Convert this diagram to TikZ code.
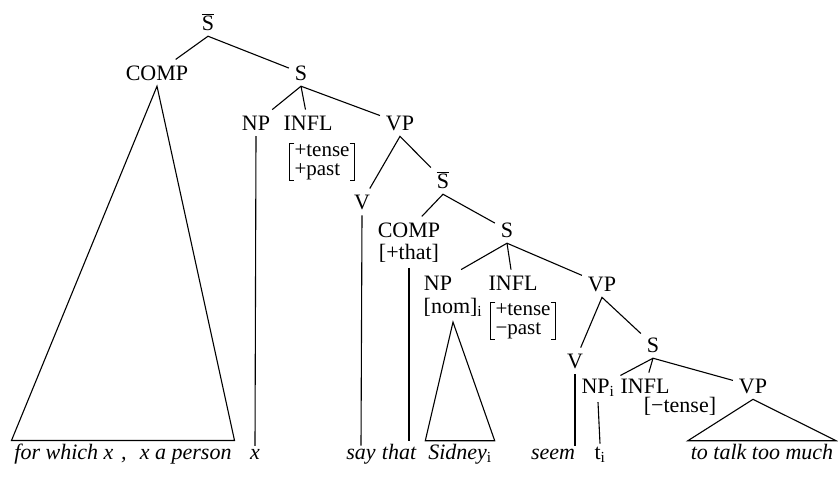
\documentclass[tikz,border=0pt]{standalone}
\usepackage{fontspec}
\setmainfont{Liberation Serif}
\usetikzlibrary{positioning}
\tikzset{
  cat/.style  = {anchor=base, inner sep=2pt, outer sep=4pt,
                 font=\fontsize{22}{24}\selectfont},
  feat/.style = {inner xsep=5pt, inner ysep=1pt, align=left,
                 font=\fontsize{21}{19}\selectfont},
  leaf/.style = {anchor=base, inner sep=1pt, outer sep=2pt,
                 font=\fontsize{22}{24}\selectfont\itshape},
  br/.style   = {line width=1.1pt}
}
% square brackets round a feature matrix
\newcommand{\brk}[1]{%
  \draw[br] ([xshift=5pt]#1.north west) -| (#1.south west) -- ++(5pt,0pt);
  \draw[br] ([xshift=-5pt]#1.north east) -| (#1.south east) -- ++(-5pt,0pt);}
\newcommand{\Sbar}{$\overline{\mbox{S}}$}

\begin{document}
\begin{tikzpicture}[x=1pt,y=-1pt]
  \useasboundingbox[fill=white] (0,0) rectangle (838,479);

  % upper clause
  \node[cat] (sbar1) at (208,30) {\Sbar};
  \node[cat] (comp1) at (157,80) {COMP};
  \node[cat] (s1) at (301,80) {S};
  \node[cat] (np1) at (256,130) {NP};
  \node[cat] (infl1) at (308,130) {INFL};
  \node[cat] (vp1) at (400,130) {VP};
  \node[feat] (f1) at (322,162) {+tense\\+past};
  \node[cat] (v1) at (362,209) {V};
  \node[cat] (sbar2) at (443,188) {\Sbar};

  % middle clause
  \node[cat] (comp2) at (409,237) {COMP};
  \node[cat] (tf) at (409,259) {[+that]};
  \node[cat] (s2) at (507,237) {S};
  \node[cat, outer sep=1pt] (np2) at (438,290) {NP};
  \node[cat, outer sep=1pt] (nom) at (453,313) {[nom]\textsubscript{i}};
  \node[cat] (infl2) at (513,290) {INFL};
  \node[feat] (f2) at (523,321) {+tense\\−past};
  \node[cat] (vp2) at (602,291) {VP};
  \node[cat] (v2) at (575,368) {V};
  \node[cat] (s3) at (653,352) {S};

  % lower clause
  \node[cat] (np3) at (598,393) {NP\textsubscript{i}};
  \node[cat] (infl3) at (645,393) {INFL};
  \node[cat] (f3) at (680,412) {[−tense]};
  \node[cat] (vp3) at (753,393) {VP};

  % words
  \node[leaf] (w1) at (123,459) {for which x\hspace{0.35em},\hspace{0.6em}x a person};
  \node[leaf] (wx) at (255,459) {x};
  \node[leaf] (wsay) at (361,459) {say};
  \node[leaf] (wthat) at (399,459) {that};
  \node[leaf] (wsid) at (460,459) {Sidney\textsubscript{\upshape i}};
  \node[leaf] (wseem) at (553,459) {seem};
  \node[leaf] (wt) at (600,459) {\upshape t\textsubscript{i}};
  \node[leaf] (wtalk) at (762,459) {to talk too much};

  \brk{f1}
  \brk{f2}

  \draw[br] (comp1) -- (sbar1.south) -- (s1);
  \draw[br] (np1) -- (s1.south) -- (vp1);
  \draw[br] (s1.south) -- (infl1);
  \draw[br] (v1) -- (vp1.south) -- (sbar2);
  \draw[br] (comp2) -- (sbar2.south) -- (s2);
  \draw[br] ([shift={(6pt,3pt)}]np2.north east) -- (s2.south) -- (vp2);
  \draw[br] (s2.south) -- (infl2);
  \draw[br] (v2) -- (vp2.south) -- (s3);
  \draw[br] (np3) -- (s3.south) -- (vp3);
  \draw[br] (s3.south) -- (infl3);

  \draw[br] (comp1.south) -- (w1.north west) -- (w1.north east) -- cycle;
  \draw[br] (np1.south) -- (wx.north);
  \draw[br] (v1.south) -- (wsay.north);
  \draw[br] (tf.south) -- (tf.south |- wthat.north);
  \draw[br] ([yshift=-3pt]nom.south) -- (wsid.north west) -- (wsid.north east) -- cycle;
  \draw[br] (v2.south) -- (v2.south |- wseem.north);
  \draw[br] (np3.south) -- (wt.north);
  \draw[br] (vp3.south) -- (wtalk.north west) -- (wtalk.north east) -- cycle;
\end{tikzpicture}
\end{document}
